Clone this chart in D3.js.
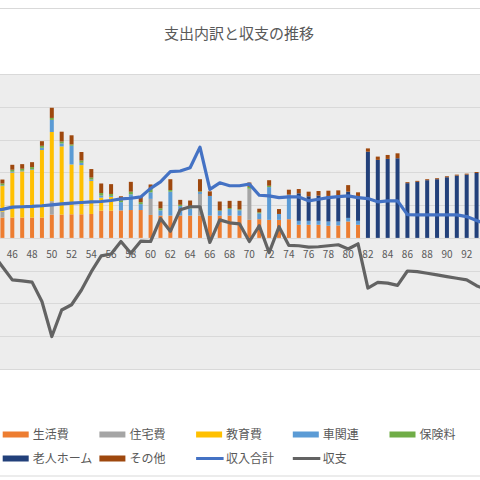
<!DOCTYPE html>
<html>
<head>
<meta charset="utf-8">
<script src="https://cdn.jsdelivr.net/npm/d3@7"></script>
<style>
body { margin: 0; background: #fff; }
text { font-family: "Noto Sans CJK JP", "Noto Sans", sans-serif; fill: #595959; }
</style>
</head>
<body>
<script>
// ages shown on the category axis (the picture is a crop of a wider chart)
var years = [44,45,46,47,48,49,50,51,52,53,54,55,56,57,58,59,60,61,62,63,64,65,66,67,68,69,
  70,71,72,73,74,75,76,77,78,79,80,81,82,83,84,85,86,87,88,89,90,91,92,93,94];
var tickLabels = ["46","48","50","52","54","56","58","60","62","64","66","68","70",
  "72","74","76","78","80","82","84","86","88","90","92","94"];

var seikatsu = [60,62,62,62,62,62,71,71,72,72,73,83,83,84,85,85,70,68,68,68,68,68,68,68,68,68,
  55,57,55,55,57,40,40,40,37,38,50,40,0,0,0,0,0,0,0,0,0,0,0,0,0];
var jutaku = [18,18,0,0,0,0,41,0,0,0,0,0,0,0,0,0,49,0,0,0,0,66,0,0,0,0,
  95,0,0,0,0,0,0,0,0,0,0,0,0,0,0,0,0,0,0,0,0,0,0,0,0];
var kyoiku = [40,78,137,141,145,206,211,208,152,150,101,40,42,0,0,0,0,0,0,0,0,0,0,0,0,0,
  0,0,0,0,0,0,0,0,0,0,0,0,0,0,0,0,0,0,0,0,0,0,0,0,0];
var kuruma = [3,2,3,2,2,7,37,9,57,7,4,6,3,25,48,18,20,16,73,29,22,6,60,14,20,16,
  0,18,100,18,75,12,12,12,13,12,11,12,0,0,0,0,0,0,0,0,0,0,0,0,0];
var hoken = [5,6,6,6,7,6,6,6,4,7,6,8,6,6,8,6,10,6,5,4,4,2,0,2,3,3,
  6,3,4,0,0,0,0,0,0,0,0,0,0,0,0,0,0,0,0,0,0,0,0,0,0];
var rojin = [0,0,0,0,0,0,0,0,0,0,0,0,0,0,0,0,0,0,0,0,0,0,0,0,0,0,
  0,0,0,0,0,84,75,77,78,79,80,76,263,238,241,243,167,171,176,179,185,190,193,198,201];
var sonota = [10,12,15,14,15,14,31,30,28,26,26,29,30,12,30,17,14,21,33,15,20,37,14,27,22,26,
  13,11,17,15,15,13,14,14,16,16,20,11,10,10,12,15,3,3,3,3,3,3,3,3,3];
var shunyu = [84,87,94,95,96,98,101,104,106,108,110,111,114,119,121,125,151,171,202,204,214,277,148,168,159,159,
  164,130,128,123,125,125,113,118,123,126,128,123,120,110,113,113,71,70,70,70,70,70,65,53,42];
var shushi = [-48,-88,-128,-131,-135,-194,-301,-220,-204,-159,-103,-55,-49,-11,-47,-10,-11,59,20,86,95,95,-14,55,46,43,
  -11,37,-45,34,-23,-24,-28,-27,-24,-21,-34,-18,-153,-136,-138,-145,-101,-103,-108,-113,-118,-123,-128,-146,-158];

var barNames = ["生活費","住宅費","教育費","車関連","保険料","老人ホーム","その他"],
  barValues = [seikatsu, jutaku, kyoiku, kuruma, hoken, rojin, sonota],
  barColors = ["#ED7D31","#A5A5A5","#FFC000","#5B9BD5","#70AD47","#22407A","#9E480E"];

var width = 480,
  height = 480,
  plotTop = 74,
  plotBottom = 369,
  step = 9.878,
  centre46 = 12.3,
  svg = d3.select("body").append("svg")
    .attr("width", width)
    .attr("height", height);

// chart frame and plot area
svg.append("rect")
  .attr("x", -2).attr("y", 8.5)
  .attr("width", width + 4).attr("height", 467.5)
  .attr("fill", "#fff").attr("stroke", "#d9d9d9");
svg.append("rect")
  .attr("x", 0).attr("y", plotTop)
  .attr("width", width).attr("height", plotBottom - plotTop)
  .attr("fill", "#ededed");

var x0 = centre46 - years.indexOf(46) * step - step / 2;
var x = d3.scaleBand()
  .domain(years)
  .range([x0, x0 + years.length * step])
  .paddingInner(0.595)
  .paddingOuter(0.2975);
var y = d3.scaleLinear()
  .domain([-400, 500])
  .range([plotBottom, plotTop]);

svg.append("g").selectAll("line")
  .data(y.ticks(9))
  .enter().append("line")
  .attr("x1", 0).attr("x2", width)
  .attr("y1", function(d){ return Math.round(y(d)) + 0.5 })
  .attr("y2", function(d){ return Math.round(y(d)) + 0.5 })
  .attr("stroke", "#d9d9d9");

// stacked columns
var table = years.map(function(yr, i) {
  var row = { year: yr };
  barNames.forEach(function(n, k){ row[n] = barValues[k][i] });
  return row;
});
var stacked = d3.stack().keys(barNames)(table);

svg.append("g").selectAll("g")
  .data(stacked)
  .enter().append("g")
  .attr("fill", function(d, k){ return barColors[k] })
  .selectAll("rect")
  .data(function(d){ return d })
  .enter().append("rect")
  .attr("x", function(d){ return x(d.data.year) })
  .attr("width", x.bandwidth())
  .attr("y", function(d){ return y(d[1]) })
  .attr("height", function(d){ return y(d[0]) - y(d[1]) });

// category labels sit next to the zero line
svg.append("g").selectAll("text")
  .data(tickLabels)
  .enter().append("text")
  .attr("x", function(d){ return x(+d) + x.bandwidth() / 2 })
  .attr("y", y(0) + 20)
  .attr("text-anchor", "middle")
  .style("font-size", "10px")
  .text(function(d){ return d });

function drawLine(values, colour) {
  var line = d3.line()
    .x(function(d, i){ return x(years[i]) + x.bandwidth() / 2 })
    .y(function(d){ return y(d) });
  svg.append("path")
    .attr("d", line(values))
    .attr("fill", "none")
    .attr("stroke", colour)
    .attr("stroke-width", 3.2)
    .attr("stroke-linejoin", "round")
    .attr("stroke-linecap", "round");
}
drawLine(shunyu, "#4472C4");
drawLine(shushi, "#636363");

svg.append("text")
  .attr("x", 239)
  .attr("y", 38.5)
  .attr("text-anchor", "middle")
  .style("font-size", "15px")
  .text("支出内訳と収支の推移");

// legend, two rows
var legendItems = barNames.map(function(n, k){ return { name: n, colour: barColors[k], kind: "bar" } })
  .concat([{ name: "収入合計", colour: "#4472C4", kind: "line" }, { name: "収支", colour: "#636363", kind: "line" }]);
var legend = svg.append("g").selectAll("g")
  .data(legendItems)
  .enter().append("g")
  .attr("transform", function(d, i) {
    var col = i < 5 ? i : i - 5,
      row = i < 5 ? 0 : 1;
    return "translate(" + (2.7 + col * 96.7) + "," + (434.5 + row * 24) + ")";
  });
legend.filter(function(d){ return d.kind == "bar" }).append("rect")
  .attr("x", 0).attr("y", -3)
  .attr("width", 26).attr("height", 6)
  .attr("fill", function(d){ return d.colour });
legend.filter(function(d){ return d.kind == "line" }).append("line")
  .attr("x1", 0).attr("x2", 27.5)
  .attr("stroke", function(d){ return d.colour })
  .attr("stroke-width", 3);
legend.append("text")
  .attr("x", 30)
  .attr("y", 4.3)
  .style("font-size", "12px")
  .text(function(d){ return d.name });
</script>
</body>
</html>
